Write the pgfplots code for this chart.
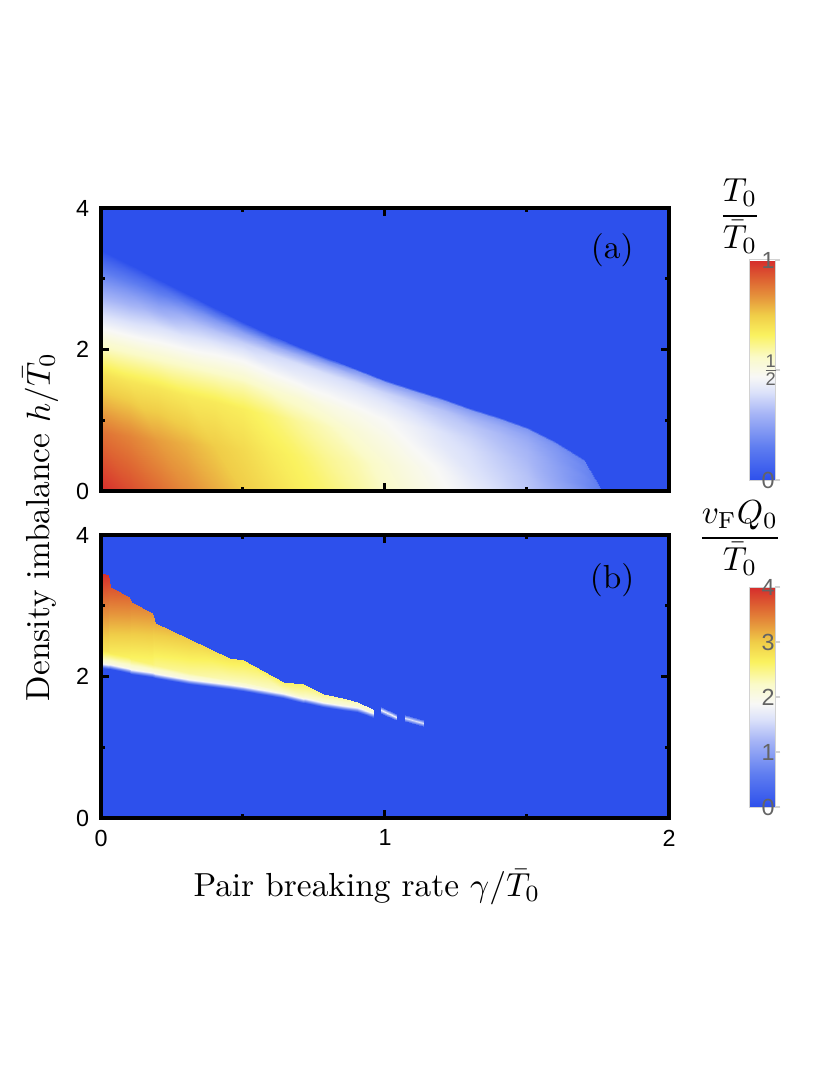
\documentclass[border=0pt]{standalone}
\usepackage{amsmath}
\usepackage{pgfplots}
\pgfplotsset{compat=1.18}
\usepackage{fontspec}
\newfontfamily\tickfont{Liberation Sans}

\definecolor{bgblue}{RGB}{45,80,236}
\definecolor{tickgray}{RGB}{100,100,100}

\newcommand\half{$\frac{\mbox{\tickfont\fontsize{5.5}{6}\selectfont 1}}{\mbox{\tickfont\fontsize{5.5}{6}\selectfont 2}}$}

\pgfplotsset{
  colormap={tmap}{
    rgb255(0pt)=(45,80,236); rgb255(15pt)=(95,125,240); rgb255(30pt)=(165,180,246);
    rgb255(40pt)=(220,226,250); rgb255(47pt)=(248,248,246); rgb255(56pt)=(250,250,200);
    rgb255(66pt)=(250,242,95); rgb255(75pt)=(240,205,72); rgb255(83pt)=(230,150,60);
    rgb255(91pt)=(222,100,50); rgb255(100pt)=(214,44,44)},
  panel/.style={
    scale only axis, width=170.4pt, height=84.9pt, anchor=south west,
    xmin=0, xmax=2, ymin=0, ymax=4,
    xtick={0,1,2}, minor xtick={0.5,1.5},
    ytick={0,2,4}, yticklabels={0,2,4}, minor ytick={1,3},
    tick align=inside,
    major tick length=2.4pt, minor tick length=1.2pt,
    every tick/.style={black, line width=0.9pt},
    axis line style={line width=1.2pt},
    axis background/.style={fill=bgblue},
    axis on top,
    colormap name=tmap,
    tick label style={font=\tickfont\fontsize{7}{8}\selectfont},
    colorbar,
    colorbar style={
      at={(parent axis.south east)}, anchor=south west,
      xshift=15.6pt, yshift=3.3pt,
      scale only axis, width=7.8pt, height=66pt,
      axis background/.style={},
      axis line style={draw=gray!35, line width=0.3pt},
      every tick/.style={draw=gray!35, line width=0.4pt},
      tick align=outside, major tick length=1.5pt,
      ytick pos=right,
      minor ytick={}, minor xtick={},
      yticklabel pos=right,
      yticklabel style={font=\tickfont\fontsize{7}{8}\selectfont, text=tickgray, xshift=-9.2pt},
    },
  },
}

\begin{document}
\begin{tikzpicture}
\useasboundingbox (0,0) rectangle (248.4pt,327.6pt);

% (a) transition temperature on a grid following the phase boundary
\begin{axis}[panel, at={(30.3pt,180.3pt)}, xticklabels={},
  point meta min=0, point meta max=1,
  colorbar style={ytick={0,0.5,1}, yticklabels={0,\half,1}}]
\addplot[surf, shader=interp, point meta=explicit, mesh/cols=19] coordinates {
(0,0)[1.00] (0.1,0)[0.95] (0.2,0)[0.90] (0.3,0)[0.85] (0.4,0)[0.80] (0.5,0)[0.75] (0.6,0)[0.71] (0.7,0)[0.67] (0.8,0)[0.64] (0.9,0)[0.60] (1.0,0)[0.56] (1.1,0)[0.52] (1.2,0)[0.48] (1.3,0)[0.44] (1.4,0)[0.39] (1.5,0)[0.34] (1.6,0)[0.28] (1.7,0)[0.21] (1.76,0)[0.15]
(0,0.825)[0.89] (0.1,0.778)[0.86] (0.2,0.728)[0.82] (0.3,0.680)[0.79] (0.4,0.630)[0.75] (0.5,0.583)[0.72] (0.6,0.538)[0.68] (0.7,0.498)[0.65] (0.8,0.460)[0.61] (0.9,0.423)[0.58] (1.0,0.385)[0.54] (1.1,0.353)[0.50] (1.2,0.320)[0.46] (1.3,0.288)[0.41] (1.4,0.255)[0.37] (1.5,0.218)[0.33] (1.6,0.170)[0.26] (1.7,0.105)[0.19] (1.76,0.004)[0.15]
(0,1.650)[0.70] (0.1,1.555)[0.69] (0.2,1.455)[0.69] (0.3,1.360)[0.68] (0.4,1.260)[0.68] (0.5,1.165)[0.67] (0.6,1.075)[0.64] (0.7,0.995)[0.60] (0.8,0.920)[0.57] (0.9,0.845)[0.53] (1.0,0.770)[0.50] (1.1,0.705)[0.46] (1.2,0.640)[0.42] (1.3,0.575)[0.39] (1.4,0.510)[0.35] (1.5,0.435)[0.31] (1.6,0.340)[0.25] (1.7,0.210)[0.19] (1.76,0.008)[0.15]
(0,2.145)[0.53] (0.1,2.022)[0.54] (0.2,1.892)[0.55] (0.3,1.768)[0.56] (0.4,1.638)[0.57] (0.5,1.515)[0.58] (0.6,1.398)[0.56] (0.7,1.294)[0.54] (0.8,1.196)[0.51] (0.9,1.099)[0.49] (1.0,1.001)[0.47] (1.1,0.917)[0.44] (1.2,0.832)[0.40] (1.3,0.748)[0.37] (1.4,0.663)[0.33] (1.5,0.566)[0.30] (1.6,0.442)[0.24] (1.7,0.273)[0.18] (1.76,0.010)[0.15]
(0,2.640)[0.34] (0.1,2.488)[0.36] (0.2,2.328)[0.39] (0.3,2.176)[0.41] (0.4,2.016)[0.44] (0.5,1.864)[0.46] (0.6,1.720)[0.45] (0.7,1.592)[0.44] (0.8,1.472)[0.44] (0.9,1.352)[0.43] (1.0,1.232)[0.42] (1.1,1.128)[0.39] (1.2,1.024)[0.36] (1.3,0.920)[0.34] (1.4,0.816)[0.31] (1.5,0.696)[0.28] (1.6,0.544)[0.23] (1.7,0.336)[0.18] (1.76,0.012)[0.15]
(0,2.970)[0.21] (0.1,2.799)[0.23] (0.2,2.619)[0.25] (0.3,2.448)[0.30] (0.4,2.268)[0.33] (0.5,2.097)[0.36] (0.6,1.935)[0.38] (0.7,1.791)[0.39] (0.8,1.656)[0.39] (0.9,1.521)[0.38] (1.0,1.386)[0.37] (1.1,1.269)[0.35] (1.2,1.152)[0.33] (1.3,1.035)[0.30] (1.4,0.918)[0.28] (1.5,0.783)[0.26] (1.6,0.612)[0.22] (1.7,0.378)[0.17] (1.76,0.014)[0.15]
(0,3.168)[0.12] (0.1,2.986)[0.14] (0.2,2.794)[0.15] (0.3,2.611)[0.19] (0.4,2.419)[0.22] (0.5,2.237)[0.25] (0.6,2.064)[0.27] (0.7,1.910)[0.29] (0.8,1.766)[0.30] (0.9,1.622)[0.30] (1.0,1.478)[0.30] (1.1,1.354)[0.29] (1.2,1.229)[0.28] (1.3,1.104)[0.26] (1.4,0.979)[0.25] (1.5,0.835)[0.24] (1.6,0.653)[0.21] (1.7,0.403)[0.17] (1.76,0.015)[0.15]
(0,3.300)[0.06] (0.1,3.110)[0.07] (0.2,2.910)[0.08] (0.3,2.720)[0.10] (0.4,2.520)[0.11] (0.5,2.330)[0.12] (0.6,2.150)[0.14] (0.7,1.990)[0.17] (0.8,1.840)[0.19] (0.9,1.690)[0.22] (1.0,1.540)[0.24] (1.1,1.410)[0.24] (1.2,1.280)[0.23] (1.3,1.150)[0.23] (1.4,1.020)[0.22] (1.5,0.870)[0.22] (1.6,0.680)[0.19] (1.7,0.420)[0.17] (1.76,0.016)[0.15]
(0,3.400)[0] (0.1,3.210)[0] (0.2,3.000)[0] (0.3,2.800)[0] (0.4,2.590)[0] (0.5,2.390)[0] (0.6,2.200)[0] (0.7,2.040)[0] (0.8,1.880)[0] (0.9,1.730)[0] (1.0,1.570)[0] (1.1,1.440)[0] (1.2,1.310)[0] (1.3,1.180)[0] (1.4,1.050)[0] (1.5,0.900)[0] (1.6,0.710)[0] (1.7,0.450)[0] (1.76,0.046)[0]
};
\node[font=\normalsize] at (axis cs:1.80,3.41) {(a)};
\end{axis}

% (b) modulation wave vector inside the narrow wedge
\begin{axis}[panel, at={(30.3pt,82.2pt)}, xticklabels={0,1,2},
  point meta min=0, point meta max=4,
  colorbar style={ytick={0,1,2,3,4}, yticklabels={0,1,2,3,4}}]
\addplot[surf, shader=interp, point meta=explicit, mesh/cols=17] coordinates {
(0,2.12)[0] (0.025,2.10)[0] (0.03,2.10)[0] (0.10,2.045)[0] (0.105,2.04)[0] (0.18,1.987)[0] (0.19,1.98)[0] (0.31,1.90)[0] (0.45,1.83)[0] (0.50,1.80)[0] (0.64,1.70)[0] (0.71,1.63)[0] (0.72,1.62)[0] (0.78,1.57)[0] (0.85,1.53)[0] (0.90,1.50)[0] (0.96,1.41)[0]
(0,2.19)[2] (0.025,2.17)[2] (0.03,2.17)[2] (0.10,2.115)[2] (0.105,2.11)[2] (0.18,2.057)[2] (0.19,2.05)[2] (0.31,1.97)[2] (0.45,1.90)[2] (0.50,1.87)[2] (0.64,1.77)[2] (0.71,1.70)[2] (0.72,1.69)[2] (0.78,1.64)[2] (0.85,1.60)[2] (0.90,1.57)[2] (0.96,1.48)[2]
(0,2.38)[2.80] (0.025,2.36)[2.78] (0.03,2.33)[2.70] (0.10,2.27)[2.64] (0.105,2.25)[2.60] (0.18,2.18)[2.54] (0.19,2.16)[2.48] (0.31,2.05)[2.40] (0.45,1.95)[2.30] (0.50,1.92)[2.29] (0.64,1.79)[2.24] (0.71,1.73)[2.24] (0.72,1.72)[2.23] (0.78,1.66)[2.18] (0.85,1.62)[2.16] (0.90,1.58)[2.12] (0.96,1.49)[2.04]
(0,3.46)[4.00] (0.025,3.44)[3.95] (0.03,3.26)[3.75] (0.10,3.12)[3.60] (0.105,3.06)[3.50] (0.18,2.90)[3.35] (0.19,2.76)[3.20] (0.31,2.53)[3.00] (0.45,2.26)[2.75] (0.50,2.23)[2.72] (0.64,1.92)[2.60] (0.71,1.90)[2.60] (0.72,1.88)[2.58] (0.78,1.75)[2.45] (0.85,1.70)[2.40] (0.90,1.64)[2.30] (0.96,1.53)[2.10]
};
\addplot[surf, shader=interp, point meta=explicit, mesh/cols=2] coordinates {
(0.985,1.490)[0.4] (1.04,1.390)[0.4]
(0.985,1.530)[1.8] (1.04,1.430)[1.8]
(0.985,1.570)[0.4] (1.04,1.470)[0.4]
};
\addplot[surf, shader=interp, point meta=explicit, mesh/cols=2] coordinates {
(1.07,1.370)[0.4] (1.135,1.300)[0.4]
(1.07,1.410)[1.6] (1.135,1.340)[1.6]
(1.07,1.450)[0.4] (1.135,1.380)[0.4]
};
\node[font=\normalsize] at (axis cs:1.80,3.36) {(b)};
\end{axis}

% colour bar titles
\node at (222pt,262.8pt) {$\dfrac{T_0}{\bar{T}_0}$};
\node at (222pt,166.2pt) {$\dfrac{v_{\mathrm{F}}Q_0}{\bar{T}_0}$};

\node[rotate=90, anchor=base] at (15pt,169.6pt) {Density imbalance $h/\bar{T}_0$};
\node[anchor=base] at (110.1pt,58.6pt) {Pair breaking rate $\gamma/\bar{T}_0$};
\end{tikzpicture}
\end{document}
